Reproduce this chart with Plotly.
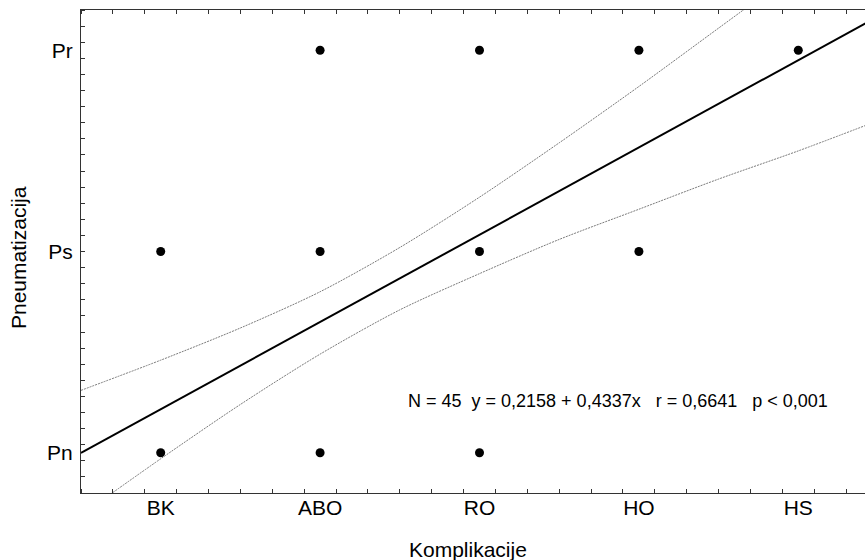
import plotly.graph_objects as go

# ---- data ----
categories = ["BK", "ABO", "RO", "HO", "HS"]
levels = ["Pn", "Ps", "Pr"]

# observed (category, level) combinations shown as dots
point_cat = ["BK", "BK", "ABO", "ABO", "ABO", "RO", "RO", "RO", "HO", "HO", "HS"]
point_lvl = ["Pn", "Ps", "Pn", "Ps", "Pr", "Pn", "Ps", "Pr", "Ps", "Pr", "Pr"]

# regression stated on the chart
intercept = 0.2158
slope = 0.4337

# confidence bands
band_x = [-0.5, 0.0, 0.5, 1.0, 1.5, 2.0, 2.5, 3.0, 3.5, 4.0, 4.5]
band_upper = [0.31, 0.46, 0.62, 0.80, 1.02, 1.27, 1.54, 1.82, 2.11, 2.40, 2.69]
band_lower = [-0.31, -0.03, 0.24, 0.49, 0.71, 0.89, 1.06, 1.21, 1.36, 1.50, 1.65]

label_text = ("N = 45\u00a0\u00a0y = 0,2158 + 0,4337x\u00a0\u00a0\u00a0r = 0,6641"
              "\u00a0\u00a0\u00a0p < 0,001")
x_title = "Komplikacije"
y_title = "Pneumatizacija"

# ---- build ----
cat_idx = {c: i for i, c in enumerate(categories)}
lvl_idx = {l: i for i, l in enumerate(levels)}
px_ = [cat_idx[c] for c in point_cat]
py_ = [lvl_idx[l] for l in point_lvl]
fit_y = [intercept + slope * x for x in band_x]

FONT = "Liberation Sans, Arial, sans-serif"
fig = go.Figure()
band_style = dict(color="#7a7a7a", width=1, dash="2px,1px", shape="spline", smoothing=0.8)
fig.add_trace(go.Scatter(x=band_x, y=band_upper, mode="lines", line=band_style,
                         hoverinfo="skip", showlegend=False))
fig.add_trace(go.Scatter(x=band_x, y=band_lower, mode="lines", line=band_style,
                         hoverinfo="skip", showlegend=False))
fig.add_trace(go.Scatter(x=band_x, y=fit_y, mode="lines",
                         line=dict(color="black", width=2), showlegend=False))
fig.add_trace(go.Scatter(x=px_, y=py_, mode="markers",
                         marker=dict(color="black", size=9), showlegend=False,
                         cliponaxis=False))

FIG_W, FIG_H = 865, 560
PLOT_L, PLOT_R, PLOT_T, PLOT_B = 81, 865, 10, 493
pw, ph = PLOT_R - PLOT_L, PLOT_B - PLOT_T
UNIT_X = 159.4  # px per category step
x_max = -0.5 + pw / UNIT_X

fig.add_annotation(x=2.868, y=0.257, xref="x", yref="y", text=label_text,
                   showarrow=False, font=dict(family=FONT, size=18, color="black"),
                   xanchor="center", yanchor="middle")
fig.add_annotation(x=(468 - PLOT_L) / pw, y=(PLOT_B - 549) / ph, xref="paper", yref="paper",
                   text=x_title, showarrow=False,
                   font=dict(family=FONT, size=21, color="black"),
                   xanchor="center", yanchor="middle")
fig.add_annotation(x=(18 - PLOT_L) / pw, y=(PLOT_B - 257) / ph, xref="paper", yref="paper",
                   text=y_title, showarrow=False, textangle=-90,
                   font=dict(family=FONT, size=21, color="black"),
                   xanchor="center", yanchor="middle")

axis_common = dict(showgrid=False, zeroline=False, showline=True, linecolor="#333",
                   linewidth=1, tickfont=dict(family=FONT, size=21, color="black"),
                   ticks="", automargin=False)
fig.update_xaxes(range=[-0.5, x_max], tickmode="array", tickvals=list(range(len(categories))),
                 ticktext=categories, mirror="ticks",
                 minor=dict(tick0=-0.5, dtick=0.2, ticks="inside", ticklen=4,
                            tickcolor="#333", tickwidth=1),
                 ticklabelstandoff=-4, **axis_common)
fig.update_yaxes(range=[-0.2, 2.2], tickmode="array", tickvals=list(range(len(levels))),
                 ticktext=levels,
                 minor=dict(tick0=-0.2, dtick=0.08, ticks="inside", ticklen=4,
                            tickcolor="#333", tickwidth=1),
                 ticklabelstandoff=3, **axis_common)

fig.update_layout(width=FIG_W, height=FIG_H,
                  margin=dict(l=PLOT_L, r=FIG_W - PLOT_R, t=PLOT_T, b=FIG_H - PLOT_B),
                  paper_bgcolor="white", plot_bgcolor="white", showlegend=False)

fig.write_html("out.html",
               config={"displayModeBar": False},
               post_script="document.body.style.margin='0';"
                           "document.body.style.overflow='hidden';")
